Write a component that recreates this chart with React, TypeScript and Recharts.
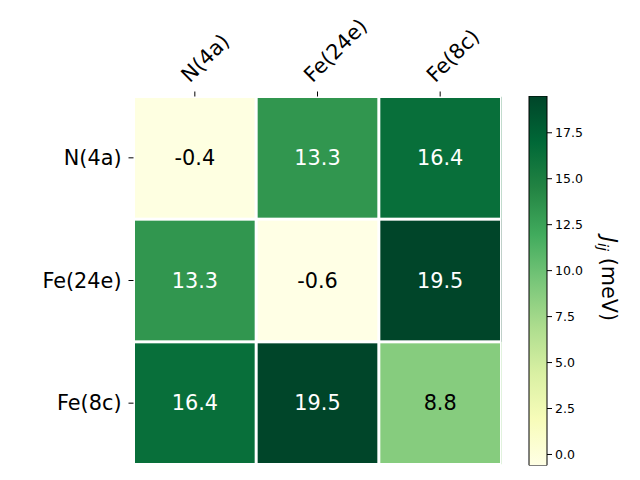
import { ScatterChart, Scatter, XAxis, YAxis, ComposedChart, Bar } from 'recharts';

const labels = ['N(4a)', 'Fe(24e)', 'Fe(8c)'];
const row0 = [-0.4, 13.3, 16.4];
const row1 = [13.3, -0.6, 19.5];
const row2 = [16.4, 19.5, 8.8];
const cbTicks = [0, 2.5, 5, 7.5, 10, 12.5, 15, 17.5];
const VMIN = -0.6;
const VMAX = 19.5;

// matplotlib YlGn
const ylgn = ['#ffffe5', '#f7fcb9', '#d9f0a3', '#addd8e', '#78c679', '#41ab5d', '#238443', '#006837', '#004529'];

const FONT = 'DejaVu Sans, sans-serif';
const FS = 20.8;
const PLOT_W = 368;
const CELL = PLOT_W / 3;

const cells = [row0, row1, row2].flatMap((row, r) => row.map((v, c) => ({ x: c, y: r, v })));

function hex(h: string) {
  return [1, 3, 5].map((i) => parseInt(h.slice(i, i + 2), 16));
}

function colorFor(v: number) {
  const t = Math.min(1, Math.max(0, (v - VMIN) / (VMAX - VMIN))) * (ylgn.length - 1);
  const i = Math.min(ylgn.length - 2, Math.floor(t));
  const f = t - i;
  const a = hex(ylgn[i]);
  const b = hex(ylgn[i + 1]);
  const m = a.map((x, k) => Math.round(x + (b[k] - x) * f));
  return `rgb(${m[0]},${m[1]},${m[2]})`;
}

const CellShape = (props: any) => {
  const { cx, cy, payload } = props;
  const fill = colorFor(payload.v);
  const light = payload.v > (VMIN + VMAX) / 2;
  return (
    <g>
      <rect x={cx - CELL / 2 + 1.5} y={cy - CELL / 2 + 1.5} width={CELL - 3} height={CELL - 3} fill={fill} />
      {payload.x === 2 && <rect x={cx + CELL / 2} y={cy - CELL / 2} width={1} height={CELL} fill={fill} />}
      <text
        x={cx}
        y={cy}
        textAnchor="middle"
        dominantBaseline="central"
        fontSize={FS}
        fontFamily={FONT}
        fill={light ? '#fff' : '#000'}
      >
        {payload.v.toFixed(1)}
      </text>
    </g>
  );
};

const XTick = (props: any) => {
  const { x, y, payload } = props;
  const ax = x - 5;
  const ay = y - 8;
  return (
    <text x={ax} y={ay} transform={`rotate(-45, ${ax}, ${ay})`} textAnchor="start" fontSize={FS} fontFamily={FONT} fill="#000">
      {labels[payload.value]}
    </text>
  );
};

const YTick = (props: any) => {
  const { x, y, payload } = props;
  return (
    <text x={x} y={y} textAnchor="end" dominantBaseline="central" fontSize={FS} fontFamily={FONT} fill="#000">
      {labels[payload.value]}
    </text>
  );
};

const cbData = [{ name: 'cb', range: [VMIN, VMAX] }];

export default function App() {
  return (
    <div style={{ position: 'absolute', left: 0, top: 0, width: 640, height: 480, background: '#fff' }}>
      <div style={{ position: 'absolute', left: 0, top: 0 }}>
        <ScatterChart width={640} height={480} margin={{ top: 66.5, right: 138.5, bottom: 15.5, left: 33.5 }}>
          <XAxis
            type="number"
            dataKey="x"
            orientation="top"
            domain={[-0.5, 2.5]}
            ticks={[0, 1, 2]}
            allowDataOverflow
            height={30}
            axisLine={false}
            tickLine={{ stroke: '#000' }}
            tickSize={5}
            tickMargin={0}
            tick={<XTick />}
            interval={0}
          />
          <YAxis
            type="number"
            dataKey="y"
            domain={[-0.5, 2.5]}
            ticks={[0, 1, 2]}
            reversed
            allowDataOverflow
            width={100}
            axisLine={false}
            tickLine={{ stroke: '#000' }}
            tickSize={5}
            tickMargin={7}
            tick={<YTick />}
            interval={0}
          />
          <Scatter data={cells} shape={<CellShape />} isAnimationActive={false} />
        </ScatterChart>
      </div>
      <div style={{ position: 'absolute', left: 0, top: 0 }}>
        <ComposedChart
          width={640}
          height={480}
          data={cbData}
          margin={{ top: 96, right: 43, bottom: 14.5, left: 529 }}
          barCategoryGap={0}
          barGap={0}
        >
          <defs>
            <linearGradient id="ylgn" x1="0" y1="1" x2="0" y2="0">
              {ylgn.map((c, i) => (
                <stop key={i} offset={i / (ylgn.length - 1)} stopColor={c} />
              ))}
            </linearGradient>
          </defs>
          <XAxis dataKey="name" hide />
          <YAxis
            type="number"
            orientation="right"
            domain={[VMIN, VMAX]}
            ticks={cbTicks}
            allowDataOverflow
            width={50}
            axisLine={false}
            tickLine={{ stroke: '#000' }}
            tickSize={5}
            tickMargin={3}
            tickFormatter={(v: number) => v.toFixed(1)}
            tick={{ fontSize: 12.5, fontFamily: FONT, fill: '#000' }}
          />
          <Bar dataKey="range" fill="url(#ylgn)" stroke="#000" strokeWidth={1} isAnimationActive={false} />
          <text
            x={601.5}
            y={279}
            transform="rotate(90, 601.5, 279)"
            textAnchor="middle"
            fontSize={FS}
            fontFamily={FONT}
            fill="#000"
          >
            <tspan fontStyle="italic">J</tspan>
            <tspan fontStyle="italic" fontSize={14.5} dy={4}>ij</tspan>
            <tspan dy={-4}> (meV)</tspan>
          </text>
        </ComposedChart>
      </div>
    </div>
  );
}
